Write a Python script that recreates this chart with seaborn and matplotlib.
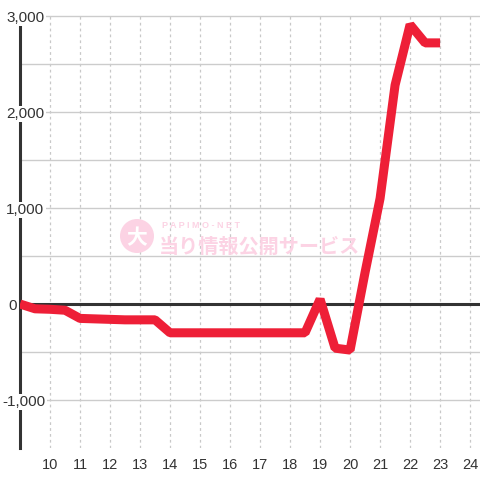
import numpy as np
import pandas as pd
import seaborn as sns
import matplotlib.pyplot as plt
from matplotlib.patches import Circle
from matplotlib.transforms import blended_transform_factory, offset_copy

sns.set_style('white')
plt.rcParams['font.family'] = ['Liberation Sans', 'DejaVu Sans']

# data
hours = [9, 9.5, 10, 10.5, 11, 11.5, 12, 12.5, 13, 13.5, 14, 14.5, 15, 15.5, 16,
         16.5, 17, 17.5, 18, 18.5, 19, 19.5, 20, 20.5, 21, 21.5, 22, 22.5, 23]
balance = [0, -50, -55, -65, -150, -155, -160, -165, -165, -165, -300, -300, -300, -300, -300,
           -300, -300, -300, -300, -300, 50, -460, -480, 330, 1100, 2280, 2910, 2720, 2720]
x_ticks = list(range(10, 25))
y_ticks = [-1000, 0, 1000, 2000, 3000]
y_labels = ['-1,000', '0', '1,000', '2,000', '3,000']

df = pd.DataFrame({'hour': hours, 'balance': balance})

fig = plt.figure(figsize=(4.8, 4.8), dpi=100)
ax = fig.add_axes([20/480, 1 - 448/480, 460/480, 432/480])

sns.lineplot(data=df, x='hour', y='balance', ax=ax, color='#ee1f37', linewidth=6.5,
             solid_joinstyle='bevel', solid_capstyle='butt', zorder=3)

ax.set_xlim(9, 24.33)
ax.set_ylim(-1500, 3000)
ax.set_xticks(x_ticks)
ax.set_xticklabels([str(t) for t in x_ticks])
ax.set_yticks(np.arange(-1000, 3001, 500))
ax.set_yticklabels([])
ax.set_xlabel('')
ax.set_ylabel('')

ax.grid(axis='y', color='#cccccc', linewidth=1, linestyle='-')
ax.grid(axis='x', color='#c8c8c8', linewidth=0.9, linestyle=(0, (2.2, 2.5)))
for gl in ax.yaxis.get_gridlines():
    gl.set_clip_on(False)
ax.tick_params(axis='both', length=0)
ax.tick_params(axis='x', pad=7, labelsize=10.5, labelcolor='#333333')

for s in ['top', 'right', 'bottom']:
    ax.spines[s].set_visible(False)
ax.spines['left'].set_color('#333333')
ax.spines['left'].set_linewidth(2.2)
ax.axhline(0, color='#333333', linewidth=2.2, zorder=2)

trans = blended_transform_factory(fig.transFigure, ax.transData)
trans = offset_copy(trans, fig=fig, y=-1.5, units='points')
for val, lab in zip(y_ticks, y_labels):
    xpos = 2 if lab.startswith('-') else (8 if lab == '0' else 6)
    ax.text(xpos/480, val, lab, transform=trans, ha='left', va='center',
            fontsize=11, color='#333333', zorder=5, clip_on=False,
            bbox=dict(facecolor='white', edgecolor='none', pad=1))

# watermark
pink = '#fcd3e4'
fig.patches.append(Circle((137/480, 1 - 236/480), 17/480, transform=fig.transFigure,
                          facecolor=pink, edgecolor='none', zorder=1))
fig.text(137/480, 1 - 238/480, '大', fontsize=15, fontweight='bold', color='white',
         ha='center', va='center', family=['Noto Sans CJK JP'], zorder=2)
fig.text(162/480, 1 - 226/480, 'P A P I M O - N E T', fontsize=6.5, fontweight='bold', color=pink,
         ha='left', va='center', zorder=2)
fig.text(159/480, 1 - 246/480, '当り情報公開サービス', fontsize=14.5, fontweight='bold', color=pink,
         ha='left', va='center', family=['Noto Sans CJK JP'], zorder=2)

plt.savefig('out.png', dpi=100)
